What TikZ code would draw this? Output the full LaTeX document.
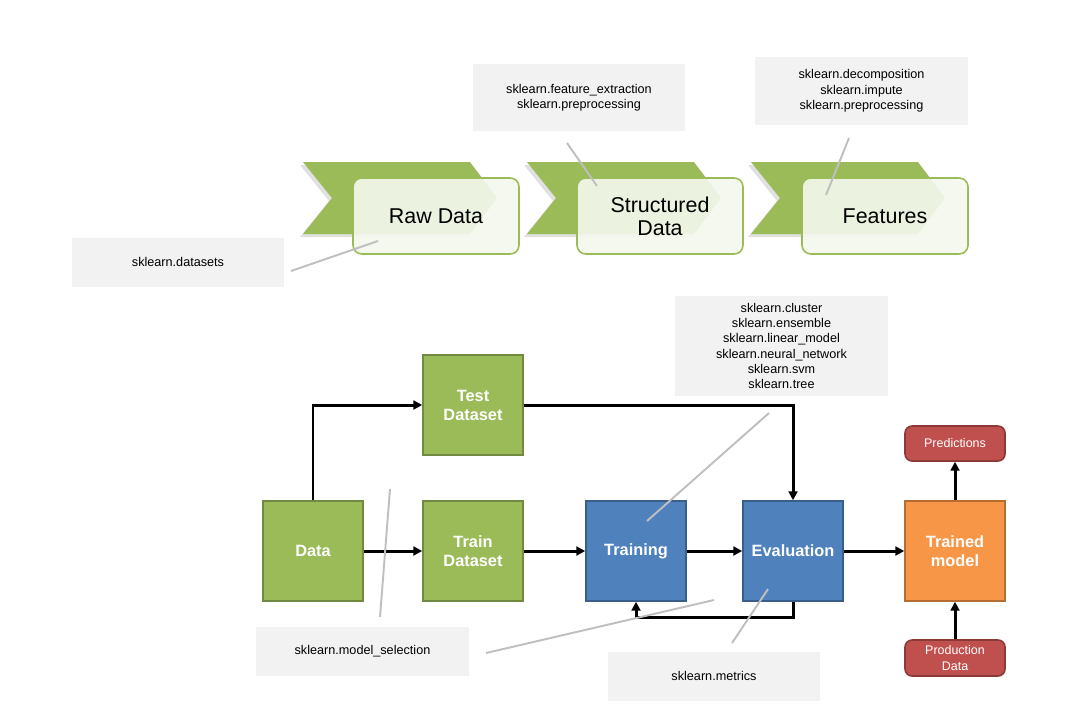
\documentclass[tikz,border=0pt]{standalone}
\usepackage{fontspec}
\setmainfont{Liberation Sans}
\usetikzlibrary{arrows.meta}
\definecolor{stagegreen}{HTML}{9BBB59}
\definecolor{stagefill}{HTML}{F4F8EE}
\definecolor{notegray}{HTML}{F2F2F2}
\definecolor{pointergray}{HTML}{BFBFBF}
\definecolor{flowgreen}{HTML}{9BBB59}
\definecolor{flowblue}{HTML}{4F81BD}
\definecolor{floworange}{HTML}{F79646}
\definecolor{outred}{HTML}{C0504D}
\begin{document}
\begin{tikzpicture}[x=0.02cm,y=-0.02cm,
    note/.style={fill=notegray,align=center,font=\fontsize{7.2}{8.7}\selectfont,minimum width=4.24cm,minimum height=0.98cm},
    stage/.style={draw=stagegreen,line width=0.9pt,rounded corners=5pt,fill=stagefill,fill opacity=0.9,text opacity=1,minimum width=3.32cm,minimum height=1.52cm,align=center,font=\fontsize{12.2}{13}\selectfont},
    block/.style={draw=#1!73!black,fill=#1,line width=0.9pt,minimum size=2cm,text=white,align=center,font=\fontsize{9.3}{10.8}\selectfont\bfseries},
    result/.style={draw=outred!73!black,fill=outred,line width=0.9pt,rounded corners=4pt,minimum width=2cm,minimum height=0.7cm,text=white,align=center,font=\fontsize{7.1}{8.6}\selectfont},
    flow/.style={line width=1.7pt,-{Triangle[length=5pt,width=5pt]}},
    pointer/.style={draw=pointergray,line width=1.1pt}]
  \useasboundingbox[fill=white] (0,0) rectangle (1084,714);

  \foreach \dx in {0,224,448}{
    \fill[black!12,shift={(\dx-3,3)}] (303,162) -- (470,162) -- (497,198) -- (470,234) -- (303,234) -- (332,198) -- cycle;
    \fill[stagegreen,shift={(\dx,0)}] (303,162) -- (470,162) -- (497,198) -- (470,234) -- (303,234) -- (332,198) -- cycle;
  }
  \node[stage] (raw) at (436,216) {Raw Data};
  \node[stage] (structured) at (660,216) {Structured\\Data};
  \node[stage] (features) at (885,216) {Features};

  \node[note] (datasets) at (178,262) {sklearn.datasets};
  \node[note,minimum height=1.34cm] (extraction) at (579,97.5)
        {sklearn.feature\_extraction\\sklearn.preprocessing};
  \node[note,minimum width=4.26cm,minimum height=1.36cm] (decomposition) at (861.5,91)
        {sklearn.decomposition\\sklearn.impute\\sklearn.preprocessing};
  \node[note,minimum width=4.26cm,minimum height=2cm] (estimators) at (781.5,346)
        {sklearn.cluster\\sklearn.ensemble\\sklearn.linear\_model\\sklearn.neural\_network\\sklearn.svm\\sklearn.tree};
  \node[note,minimum width=4.26cm] (selection) at (362.5,651.5) {sklearn.model\_selection};
  \node[note] (metrics) at (714,676) {sklearn.metrics};

  \node[block=flowgreen] (data) at (313,551) {Data};
  \node[block=flowgreen] (test) at (473,405) {Test\\Dataset};
  \node[block=flowgreen] (train) at (473,551) {Train\\Dataset};
  \node[block=flowblue] (training) at (636,551) {Training};
  \node[block=flowblue] (evaluation) at (793,551) {Evaluation};
  \node[block=floworange] (model) at (955,551) {Trained\\model};
  \node[result] (predictions) at (955,443.5) {Predictions};
  \node[result,minimum height=0.72cm] (production) at (955,658) {Production\\Data};

  \draw[flow] (data.north) |- (test.west);
  \draw[flow] (data) -- (train);
  \draw[flow] (train) -- (training);
  \draw[flow] (training) -- (evaluation);
  \draw[flow] (evaluation) -- (model);
  \draw[flow] (test.east) -| (evaluation.north);
  \draw[flow] (evaluation.south) -- ++(0,16) -| (training.south);
  \draw[flow] (model) -- (predictions);
  \draw[flow] (production) -- (model);

  \foreach \a/\b in {{291,271}/{378,241},{567,143}/{597,186},{849,138}/{826,195},
      {769,413}/{647,521},{390,489}/{380,617},{486,653}/{714,600},{768,589}/{732,643}}
    \draw[pointer] (\a) -- (\b);
\end{tikzpicture}
\end{document}
